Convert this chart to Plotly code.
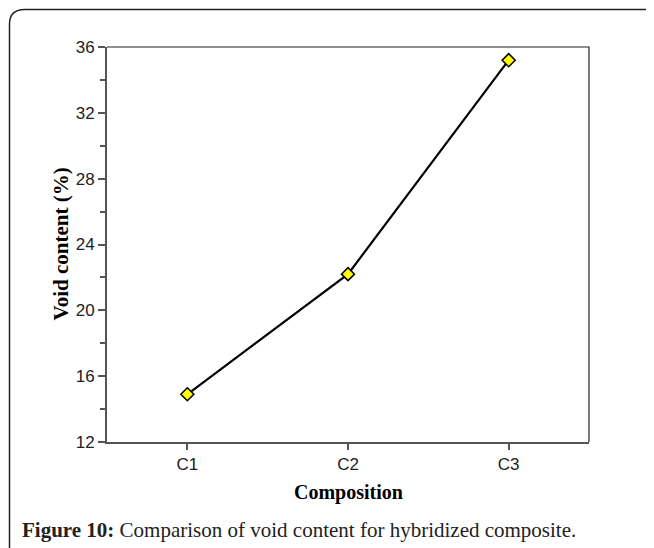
import plotly.graph_objects as go

categories = ["C1", "C2", "C3"]
void_content = [14.9, 22.2, 35.2]
y_tick_vals = [12, 16, 20, 24, 28, 32, 36]
y_tick_labels = ["12", "16", "20", "24", "28", "32", "36"]

OFF = 8  # page body margin
W, H = 646, 540
L, T = 107 - OFF, 47 - OFF
R = W - (589 - OFF)
B = H - (442 - OFF)
PW, PH = W - L - R, H - T - B


def px(x):
    return (x - OFF - L) / PW


def py(y):
    return 1 - (y - OFF - T) / PH


fig = go.Figure()
fig.add_trace(go.Scatter(
    x=categories, y=void_content, mode="lines+markers",
    line=dict(color="black", width=2.2),
    marker=dict(symbol="diamond", size=10, color="#ffff00",
                line=dict(color="black", width=1.5)),
    showlegend=False,
))

frame = (f"M {px(9.5)},{py(560)} L {px(9.5)},{py(24)} "
         f"Q {px(9.5)},{py(9.5)} {px(25)},{py(9.5)} L {px(670)},{py(9.5)}")
fig.add_shape(type="path", path=frame, xref="paper", yref="paper",
              line=dict(color="#222", width=1.5))

fig.add_annotation(
    x=px(20), y=py(530), xref="paper", yref="paper", xanchor="left",
    yanchor="middle", showarrow=False,
    text="<b>Figure 10:</b> Comparison of void content for hybridized composite.",
    font=dict(family="Liberation Serif", size=21, color="#222"))

fig.add_annotation(
    x=0.5, y=py(492), xref="paper", yref="paper", xanchor="center",
    yanchor="middle", showarrow=False, text="<b>Composition</b>",
    font=dict(family="Liberation Serif", size=20, color="black"))

fig.add_annotation(
    x=px(60), y=0.5, xref="paper", yref="paper", xanchor="center",
    yanchor="middle", showarrow=False, textangle=-90,
    text="<b>Void content (%)</b>",
    font=dict(family="Liberation Serif", size=21, color="black"))

fig.update_xaxes(
    type="category", range=[-0.5, 2.5],
    showline=True, linecolor="#555", linewidth=2,
    ticks="outside", ticklen=6, tickcolor="#555", tickwidth=1.5,
    minor=dict(ticks="outside", ticklen=5, tickcolor="#555", tickwidth=1.5),
    showgrid=False, zeroline=False,
    tickfont=dict(family="Liberation Sans", size=17, color="#222"),
)
fig.update_yaxes(
    range=[12, 36], tickvals=y_tick_vals, ticktext=y_tick_labels,
    showline=True, linecolor="#555", linewidth=2,
    ticks="outside", ticklen=7, tickcolor="#555", tickwidth=1.5,
    minor=dict(dtick=2, ticks="outside", ticklen=5, tickcolor="#555", tickwidth=1.5),
    showgrid=False, zeroline=False,
    tickfont=dict(family="Liberation Sans", size=17, color="#222"),
)
# top and right border of the plot box
fig.add_shape(type="path", path="M 0,1 L 1,1 L 1,0", xref="paper", yref="paper",
              line=dict(color="#222", width=1.2))

fig.update_layout(
    width=W, height=H, margin=dict(l=L, r=R, t=T, b=B),
    paper_bgcolor="white", plot_bgcolor="white",
)
fig.write_html("out.html")
